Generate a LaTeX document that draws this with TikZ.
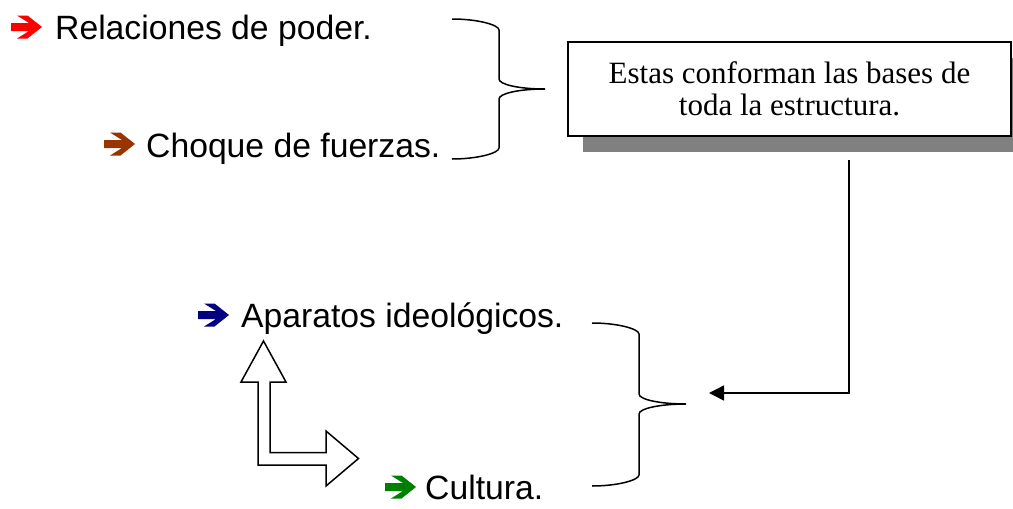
\documentclass[tikz,border=0pt]{standalone}
\usepackage{fontspec}
\setmainfont{Liberation Sans}
\newfontfamily\boxfont{Liberation Serif}
\usetikzlibrary{arrows.meta,shadows}

\definecolor{brickred}{RGB}{153,51,0}
\definecolor{navyblue}{RGB}{0,0,128}
\definecolor{leafgreen}{RGB}{0,128,0}

% right curly brace: start x, column x, tip x, top y, middle y, bottom y
\newcommand{\rightcurly}[6]{
	\draw[brace line] (#1,#4) .. controls (#1+26,#4) and (#2,#4+6) .. (#2,#4+11)
		-- (#2,#5-10) .. controls (#2,#5-4.5) and (#3-26,#5) .. (#3,#5)
		.. controls (#3-26,#5) and (#2,#5+4.5) .. (#2,#5+10)
		-- (#2,#6-11) .. controls (#2,#6-6) and (#1+26,#6) .. (#1,#6);
}

\tikzset{
	bullet arrow/.pic={
		\fill (0,-4) -- (18,-4) -- (6,-11.5) -- (16.5,-11.5) -- (31,0) -- (16.5,11.5)
			-- (6,11.5) -- (18,4) -- (0,4) -- cycle;
	}
}

\begin{document}
\begin{tikzpicture}[x=1pt,y=-1pt,
	item node/.style={anchor=base west,inner sep=0pt,font=\fontsize{33.7}{38}\selectfont},
	bases node/.style={draw,line width=1.5pt,fill=white,minimum width=443pt,minimum height=94pt,
		align=center,inner sep=0pt,font=\boxfont\fontsize{31}{31.5}\selectfont,
		drop shadow={shadow xshift=15pt,shadow yshift=-16pt,fill=black!50,opacity=1}},
	brace line/.style={line width=1.5pt},
	block arrow/.style={line width=1.5pt,line join=miter,fill=white}
]
	\useasboundingbox (0,0) rectangle (1013,509);

	\node[item node] (rel) at (55,39) {Relaciones de poder.};
	\node[item node] (choque) at (146,157) {Choque de fuerzas.};
	\node[item node] (aparatos) at (241,327) {Aparatos ideológicos.};
	\node[item node] (cultura) at (425,499) {Cultura.};

	\pic[red] at ([xshift=-44pt,yshift=12pt]rel.base west) {bullet arrow};
	\pic[brickred] at ([xshift=-42pt,yshift=13pt]choque.base west) {bullet arrow};
	\pic[navyblue] at ([xshift=-43pt,yshift=12pt]aparatos.base west) {bullet arrow};
	\pic[leafgreen] at ([xshift=-40pt,yshift=12pt]cultura.base west) {bullet arrow};

	\node[bases node] (bases) at (789.5,89) {Estas conforman las bases de\\toda la estructura.};

	\rightcurly{452}{499}{545}{19}{89}{159}
	\rightcurly{592}{639}{686}{323}{404}{486}

	\coordinate (drop) at (849,160);
	\coordinate (target) at (709,393);
	\draw[line width=1.5pt,-{Triangle[length=15pt,width=15pt]}] (drop) |- (target);

	% up and right block arrow between aparatos and cultura
	\draw[block arrow] (263.5,341) -- (286,382) -- (270,382) -- (270,452.5) -- (326,452.5)
		-- (326,431) -- (358.5,458.5) -- (326,486) -- (326,465) -- (258,465)
		-- (258,382) -- (241,382) -- cycle;
\end{tikzpicture}
\end{document}
